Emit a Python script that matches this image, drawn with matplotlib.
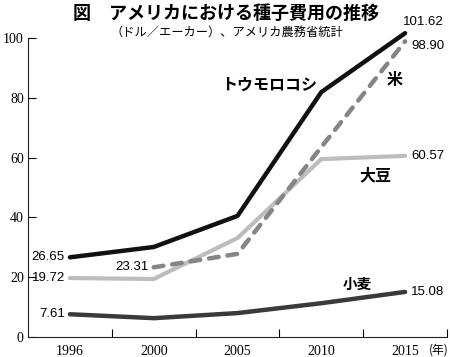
import matplotlib.pyplot as plt

# data (dollars per acre)
years = ['1996', '2000', '2005', '2010', '2015']
corn = [26.65, 30.1, 40.5, 81.9, 101.62]
rice = [None, 23.31, 27.8, 63.5, 98.90]
soybean = [19.72, 19.4, 33.1, 59.5, 60.57]
wheat = [7.61, 6.3, 8.0, 11.3, 15.08]

JP = ['Noto Sans CJK JP', 'DejaVu Sans']
NUM = 'Liberation Sans'
SERIF = 'Liberation Serif'

fig = plt.figure(figsize=(4.5, 3.57), dpi=100)
ax = fig.add_axes([28/450, 20/357, 419/450, 299/357])

x = list(range(len(years)))
rx = [i for i, v in zip(x, rice) if v is not None]
rv = [v for v in rice if v is not None]

ax.plot(x, soybean, color='#bdbdbd', lw=3, solid_capstyle='round', solid_joinstyle='round', clip_on=False, zorder=2)
ax.plot(x, wheat, color='#3a3a3a', lw=3.2, solid_capstyle='round', solid_joinstyle='round', clip_on=False, zorder=2)
ax.plot(rx, rv, color='#858585', lw=3.2, dashes=(2.2, 2.0), dash_capstyle='round',
        solid_joinstyle='round', clip_on=False, zorder=3)
ax.plot(x, corn, color='#111111', lw=3.2, solid_capstyle='round', solid_joinstyle='round', clip_on=False, zorder=4)

ax.set_xlim(-0.5, 4.5)
ax.set_ylim(0, 100)

for s in ['top', 'right']:
    ax.spines[s].set_visible(False)
for s in ['left', 'bottom']:
    ax.spines[s].set_linewidth(0.8)
    ax.spines[s].set_color('#222222')

ax.set_yticks([0, 20, 40, 60, 80, 100])
ax.tick_params(axis='y', direction='in', length=6, width=0.8, pad=3, labelsize=10)
ax.set_xticks(x)
ax.set_xticklabels(years)
ax.set_xticks([0.5, 1.5, 2.5, 3.5, 4.5], minor=True)
ax.tick_params(axis='x', which='major', length=0, pad=6, labelsize=10)
ax.tick_params(axis='x', which='minor', direction='in', length=6, width=0.8)
for lab in ax.get_xticklabels() + ax.get_yticklabels():
    lab.set_family(SERIF)
ax.text(4.28, -4.2, '(年)', family=JP, fontsize=8.5, ha='left', va='center', clip_on=False)

# value labels
ax.text(-0.06, 26.65, '26.65', family=NUM, fontsize=9.5, ha='right', va='center')
ax.text(-0.06, 19.72, '19.72', family=NUM, fontsize=9.5, ha='right', va='center')
ax.text(-0.06, 7.61, '7.61', family=NUM, fontsize=9.5, ha='right', va='center')
ax.text(0.94, 23.5, '23.31', family=NUM, fontsize=9.5, ha='right', va='center')
ax.text(3.98, 105.3, '101.62', family=NUM, fontsize=9.5, ha='left', va='center')
ax.text(4.07, 97.3, '98.90', family=NUM, fontsize=9.5, ha='left', va='center')
ax.text(4.07, 60.5, '60.57', family=NUM, fontsize=9.5, ha='left', va='center')
ax.text(4.07, 15.0, '15.08', family=NUM, fontsize=9.5, ha='left', va='center')

# series names
ax.text(2.38, 84.3, 'トウモロコシ', family=JP, fontsize=11.5, weight='bold', ha='center', va='center')
ax.text(3.87, 86, '米', family=JP, fontsize=11.5, weight='bold', ha='center', va='center')
ax.text(3.65, 54.2, '大豆', family=JP, fontsize=11.5, weight='bold', ha='center', va='center')
ax.text(3.43, 17.7, '小麦', family=JP, fontsize=10.5, weight='bold', ha='center', va='center')

fig.text(226/450, 1 - 13/357, '図　アメリカにおける種子費用の推移', family=JP, fontsize=13,
         weight='bold', ha='center', va='center')
fig.text(227/450, 1 - 32/357, '（ドル／エーカー）、アメリカ農務省統計', family=JP, fontsize=8.8,
         ha='center', va='center')

fig.savefig('out.png', dpi=100)
